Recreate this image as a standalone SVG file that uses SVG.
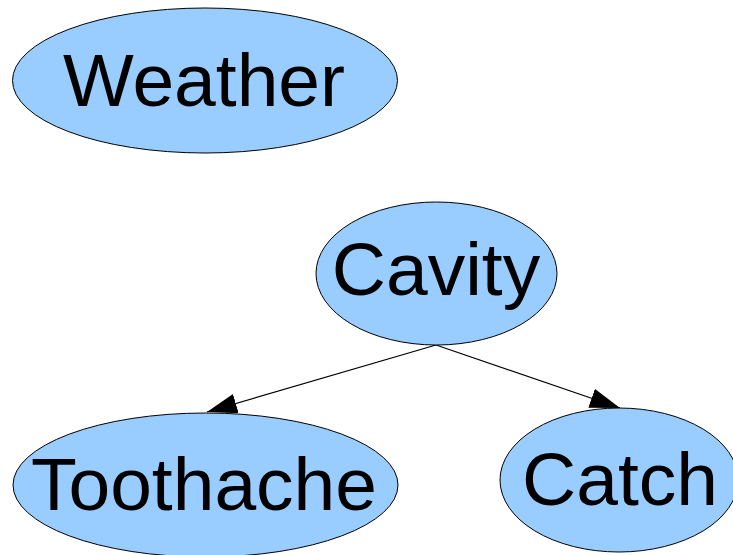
<svg xmlns="http://www.w3.org/2000/svg" width="733" height="555" viewBox="0 0 733 555">
  <style>
    .node ellipse { fill: #99ccff; stroke: #000000; stroke-width: 1; }
    .node text { font-family: "Liberation Sans", Arial, sans-serif; font-size: 75px; fill: #000000; text-anchor: middle; }
    .edge { stroke: #000000; stroke-width: 1.2; fill: none; marker-end: url(#arrow); }
  </style>
  <defs>
    <marker id="arrow" markerUnits="userSpaceOnUse" markerWidth="30" markerHeight="20" refX="30" refY="10" orient="auto">
      <path d="M0,0 L30,10 L0,20 z" fill="#000000"/>
    </marker>
  </defs>
  <rect width="733" height="555" fill="#ffffff"/>

  <g id="connectors">
    <line class="edge" x1="436" y1="345" x2="207" y2="412"/>
    <line class="edge" x1="436" y1="345" x2="620" y2="408"/>
  </g>

  <g id="weather" class="node">
    <ellipse cx="205" cy="80.5" rx="192.5" ry="72.5"/>
    <text x="204" y="106">Weather</text>
  </g>

  <g id="cavity" class="node">
    <ellipse cx="436.5" cy="273.5" rx="120.5" ry="71.5"/>
    <text x="436" y="295">Cavity</text>
  </g>

  <g id="toothache" class="node">
    <ellipse cx="205.5" cy="485" rx="192.5" ry="72"/>
    <text x="204" y="510">Toothache</text>
  </g>

  <g id="catch" class="node">
    <ellipse cx="619" cy="480" rx="119" ry="72"/>
    <text x="620" y="505">Catch</text>
  </g>
</svg>
